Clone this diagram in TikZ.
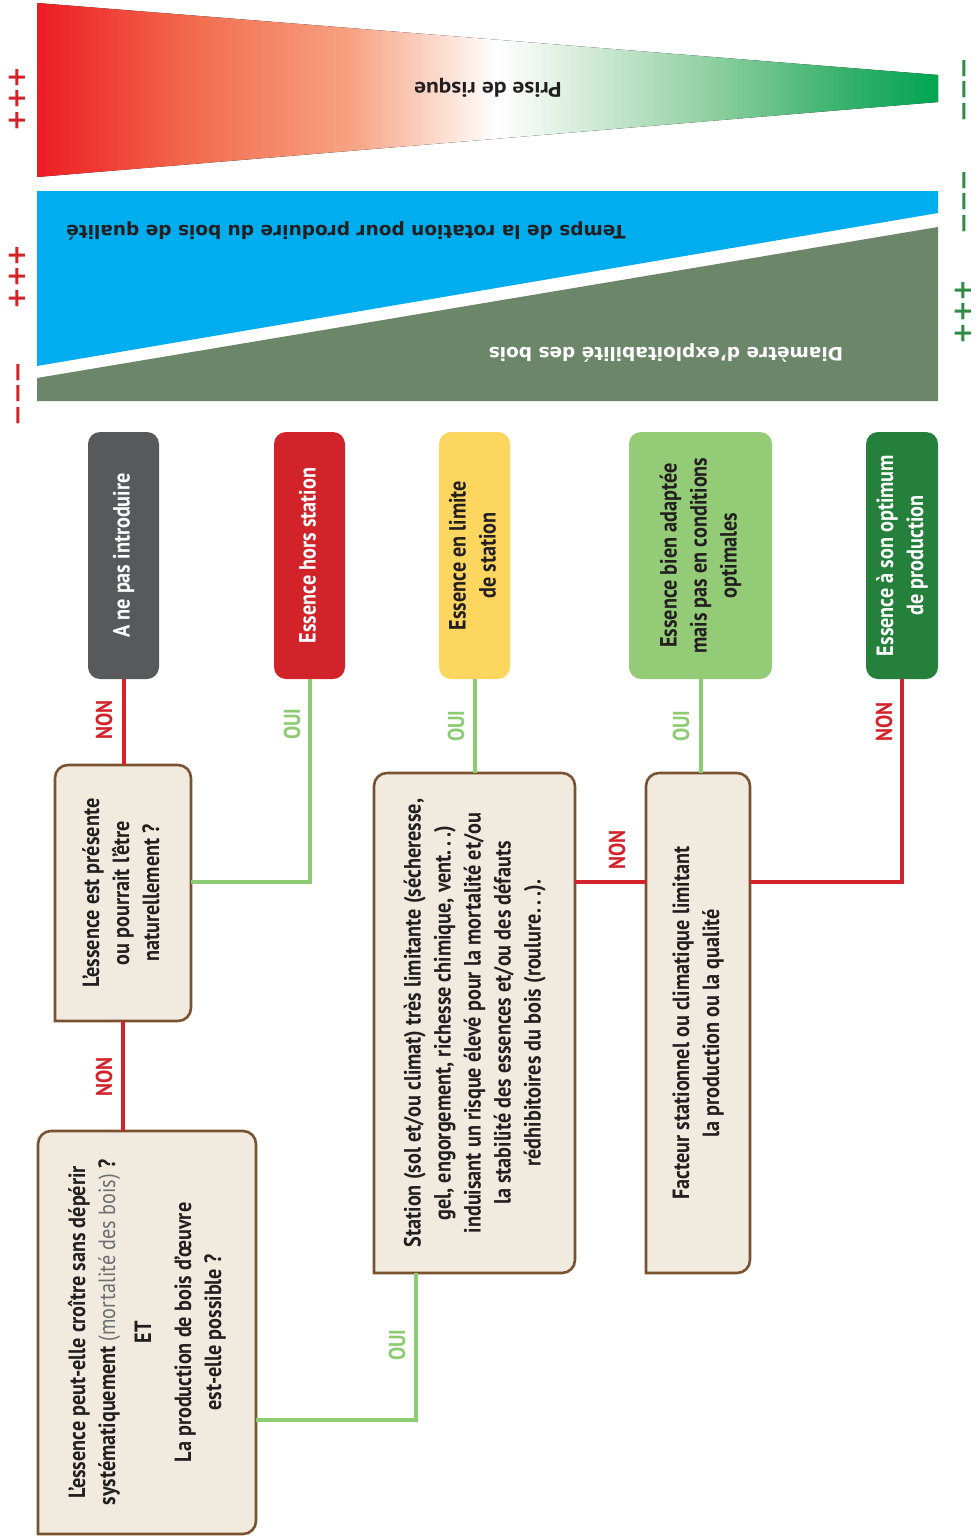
\documentclass[tikz,border=0pt]{standalone}
\usepackage{fontspec}
\usetikzlibrary{backgrounds}
\setmainfont{PT Sans}
\newfontfamily\condfont{PT Sans}[FakeStretch=0.86]
\newfontfamily\riskfont{PT Sans}[FakeStretch=1.12]
\newfontfamily\wedgefont{DejaVu Sans}
\newfontfamily\signfont{DejaVu Sans}

\definecolor{ink}{HTML}{231F20}
\definecolor{nored}{HTML}{D2232A}
\definecolor{yesgreen}{HTML}{8DCB73}
\definecolor{qfill}{HTML}{F1EBDF}
\definecolor{qborder}{HTML}{7A5230}
\definecolor{softgray}{HTML}{6D6E71}
\definecolor{boxgray}{HTML}{58595B}
\definecolor{boxred}{HTML}{D2232A}
\definecolor{boxyellow}{HTML}{FDD65F}
\definecolor{boxlight}{HTML}{93CB77}
\definecolor{boxdark}{HTML}{25803C}
\definecolor{rotblue}{HTML}{00AEEF}
\definecolor{diamsage}{HTML}{6C8669}
\definecolor{signgreen}{HTML}{2E8B45}
% colour stops of the risk wedge
\definecolor{rk0}{HTML}{ED1C24}
\definecolor{rk1}{HTML}{F26E50}
\definecolor{rk2}{HTML}{F7A383}
\definecolor{rk3}{HTML}{FCE3D8}
\definecolor{rk4}{HTML}{FFFFFF}
\definecolor{rk5}{HTML}{D8EDDC}
\definecolor{rk6}{HTML}{8ECFA0}
\definecolor{rk7}{HTML}{35B06A}
\definecolor{rk8}{HTML}{00A651}

\pgfdeclarehorizontalshading{riskshade}{100bp}{color(0bp)=(rk0); color(25bp)=(rk0);
  color(34bp)=(rk1); color(42.5bp)=(rk2); color(48bp)=(rk3); color(50.5bp)=(rk4);
  color(55bp)=(rk5); color(62.5bp)=(rk6); color(70bp)=(rk7); color(75bp)=(rk8);
  color(100bp)=(rk8)}

% centred lines of text, turned to read upwards
\newcommand{\vlines}[1]{\rotatebox{90}{\begin{tabular}{@{}c@{}}#1\end{tabular}}}

\tikzset{
  outcome/.style={rectangle, rounded corners=12pt, inner sep=0pt, outer sep=0pt,
    font={\condfont\bfseries\fontsize{23.5}{30}\selectfont}},
  question/.style={rectangle, inner sep=0pt, outer sep=0pt, text=ink,
    font={\condfont\bfseries\fontsize{23.5}{30}\selectfont}},
  qframe/.style={draw=qborder, line width=2.6pt, fill=qfill, rounded corners=13pt,
    line cap=rect},
  yesline/.style={draw=yesgreen, line width=4pt},
  noline/.style={draw=nored, line width=4pt},
  answer/.style={rotate=90, inner sep=0pt, font={\condfont\bfseries\fontsize{23}{24}\selectfont}},
  yeslabel/.style={answer, text=yesgreen},
  nolabel/.style={answer, text=nored},
  signmark/.style={rotate=90, inner sep=0pt, font={\signfont\bfseries\fontsize{26}{26}\selectfont}},
  wedgelabel/.style={rotate=180, inner sep=0pt, font={\wedgefont\bfseries\fontsize{18.5}{20}\selectfont}},
}

\begin{document}
\begin{tikzpicture}[x=1pt, y=-1pt]
\useasboundingbox (0,0) rectangle (976,1539);
\begin{scope}[on background layer]
  \fill[white] (0,0) rectangle (976,1539);
\end{scope}

% --- wedges ---------------------------------------------------------------
\fill[shading=riskshade] (37,3) -- (938,75) -- (938,102) -- (37,177) -- cycle;
\node[rotate=180, inner sep=0pt, text=ink, font={\riskfont\bfseries\fontsize{21}{22}\selectfont}]
  (risk) at (488,88) {Prise de risque};

\fill[rotblue] (37,191) -- (938,191) -- (938,213) -- (37,366) -- cycle;
\node[wedgelabel, text=ink] (rotation) at (346,231)
  {Temps de la rotation pour produire du bois de qualité};

\fill[diamsage] (37,378) -- (938,227) -- (938,401) -- (37,401) -- cycle;
\node[wedgelabel, text=white] (diameter) at (666,353)
  {Diamètre d’exploitabilité des bois};

% --- scale signs ----------------------------------------------------------
\node[signmark, text=nored] (sl1) at (17,99) {+++};
\node[signmark, text=nored] (sl2) at (17,277) {+++};
\node[signmark, text=nored] (sl3) at (22,394) {−−−};
\node[signmark, text=signgreen] (sr1) at (968,90) {−−−};
\node[signmark, text=signgreen] (sr2) at (968,202) {−−−};
\node[signmark, text=signgreen] (sr3) at (963,312) {+++};

% --- outcome boxes --------------------------------------------------------
\node[outcome, fill=boxgray, text=white, minimum width=71, minimum height=247]
  (O1) at (123.5,555.5) {\vlines{A ne pas introduire}};
\node[outcome, fill=boxred, text=white, minimum width=71, minimum height=247]
  (O2) at (309.5,555.5) {\vlines{Essence hors station}};
\node[outcome, fill=boxyellow, text=ink, minimum width=71, minimum height=247]
  (O3) at (474.5,555.5) {\vlines{Essence en limite\\de station}};
\node[outcome, fill=boxlight, text=ink, minimum width=143, minimum height=247]
  (O4) at (700.5,555.5) {\vlines{Essence bien adaptée\\mais pas en conditions\\optimales}};
\node[outcome, fill=boxdark, text=white, minimum width=72, minimum height=247]
  (O5) at (902,555.5) {\vlines{Essence à son optimum\\de production}};

% --- question boxes -------------------------------------------------------
\node[question, minimum width=136, minimum height=256] (Q1) at (123,893)
  {\vlines{L’essence est présente\\ou pourrait l’être\\naturellement ?}};
\node[question, minimum width=218, minimum height=403] (Q0) at (147,1332.5)
  {\vlines{L’essence peut-elle croître sans dépérir\\
   systématiquement {\mdseries\color{softgray}(mortalité des bois)} ?\\[6pt]
   ET\\[10pt]
   La production de bois d’œuvre\\est-elle possible ?}};
\node[question, minimum width=201, minimum height=500] (S) at (474.5,1023)
  {\vlines{Station (sol et/ou climat) très limitante (sécheresse,\\
   gel, engorgement, richesse chimique, vent.\,.\,.)\\
   induisant un risque élevé pour la mortalité et/ou\\
   la stabilité des essences et/ou des défauts\\
   rédhibitoires du bois (roulure.\,.\,.).}};
\node[question, minimum width=104, minimum height=500] (F) at (698,1023)
  {\vlines{Facteur stationnel ou climatique limitant\\la production ou la qualité}};

% frames: square lower-left corner, the other three rounded
\begin{scope}[on background layer]
  \foreach \q in {Q1,Q0,S,F}
    \draw[qframe] (\q.south west) -- (\q.north west) -- (\q.north east)
      -- (\q.south east) -- (\q.south west);
\end{scope}

% --- connectors -----------------------------------------------------------
\coordinate (jy) at (0,882);
\coordinate (jq) at (0,1420);
\coordinate (jx) at (416,0);

\draw[noline] (O1.south) -- (O1.south |- Q1.north);
\draw[yesline] (O2.south) |- (Q1.east |- jy);
\draw[yesline] (O3.south) -- (O3.south |- S.north);
\draw[yesline] (O4.south) -- (O4.south |- F.north);
\draw[noline] (O5.south) |- (F.east |- jy);
\draw[noline] (S.east |- jy) -- (F.west |- jy);
\draw[noline] (Q1.south) -- (Q1.south |- Q0.north);
\draw[yesline] (Q0.east |- jq) -| (jx |- S.south);

% --- answers --------------------------------------------------------------
\node[nolabel] (n1) at (104,720) {NON};
\node[yeslabel] (y1) at (292,724) {OUI};
\node[yeslabel] (y2) at (456,726) {OUI};
\node[yeslabel] (y3) at (681,726) {OUI};
\node[nolabel] (n2) at (884,722) {NON};
\node[nolabel] (n3) at (617,850) {NON};
\node[nolabel] (n4) at (104,1077) {NON};
\node[yeslabel] (y4) at (397,1345) {OUI};
\end{tikzpicture}
\end{document}
